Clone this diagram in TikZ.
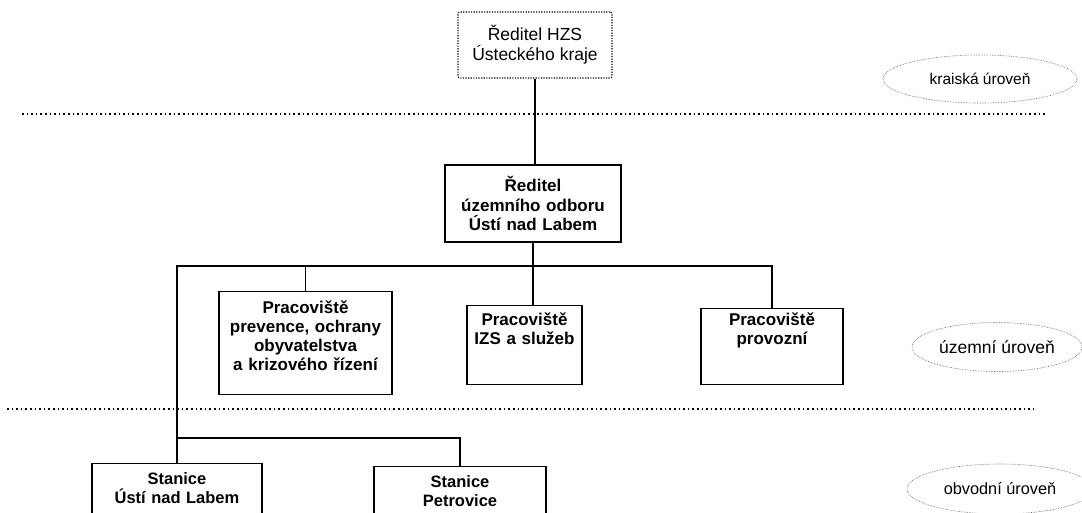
\documentclass[tikz,border=0pt]{standalone}
\usepackage{fontspec}
\setmainfont{Liberation Sans}
\usetikzlibrary{positioning, shapes.geometric}

\begin{document}
\begin{tikzpicture}[x=1pt, y=-1pt,
    unit/.style={draw, line width=1.1pt, align=center, inner xsep=0pt, inner ysep=7pt,
      font=\bfseries\fontsize{17}{19}\selectfont},
    level/.style={draw=black!65, densely dotted, line width=0.6pt, ellipse, inner sep=0pt,
      font=\fontsize{15.5}{18}\selectfont},
    border/.style={line width=1.5pt, dash pattern=on 1.5pt off 3.1pt},
    link/.style={line width=1.1pt}]
    \useasboundingbox (0,0) rectangle (1082,512);

    % krajska uroven
    \node[draw, line width=1.2pt, dash pattern=on 1.2pt off 1.4pt, rounded corners=2pt,
      minimum width=154pt, minimum height=66pt, align=center,
      font=\fontsize{17.5}{20}\selectfont] (hzs) at (535,45) {Ředitel HZS\\Ústeckého kraje};
    \node[level, minimum width=194pt, minimum height=48pt] (kraj) at (980,79) {kraiská úroveň};
    \draw[border] (22,114) -- (1045,114);

    % uzemni uroven
    \node[unit, line width=2pt, text width=176pt, minimum height=77pt,
      font=\bfseries\fontsize{17}{19.5}\selectfont] (odbor) at (533,203.5)
      {Ředitel\\územního odboru\\Ústí nad Labem};
    \node[unit, anchor=north, text width=173pt, text height=15pt, text depth=74pt] (prevence) at (305.5,291)
      {Pracoviště\\prevence, ochrany\\obyvatelstva\\a krizového řízení};
    \node[unit, anchor=north, text width=115pt, text height=13pt, text depth=52pt] (izs) at (524.5,305)
      {Pracoviště\\IZS a služeb};
    \node[unit, anchor=north, text width=142pt, text height=10pt, text depth=52pt] (provoz) at (772,308)
      {Pracoviště\\provozní};
    \node[level, minimum width=170pt, minimum height=49pt,
      font=\fontsize{17.5}{20}\selectfont] (uzemi) at (997,347) {územní úroveň};
    \draw[border] (7,409) -- (1035,409);

    % obvodni uroven
    \node[unit, anchor=north, text width=170pt, text height=14pt, text depth=50pt,
      font=\bfseries\fontsize{16.5}{19}\selectfont] (stanUL) at (177,463) {Stanice\\Ústí nad Labem};
    \node[unit, anchor=north, text width=172pt, text height=14pt, text depth=50pt,
      font=\bfseries\fontsize{16.5}{19}\selectfont] (stanPe) at (460,466) {Stanice\\Petrovice};
    \node[level, minimum width=186pt, minimum height=50pt,
      font=\fontsize{16.3}{19}\selectfont] (obvod) at (1000,489) {obvodní úroveň};

    % spoje
    \coordinate (bus) at (0,266);
    \coordinate (bus2) at (0,438);
    \draw[link] (hzs.south) -- (hzs.south |- odbor.north);
    \draw[link] (odbor.south) -- (odbor.south |- izs.north);
    \draw[link] (stanUL.north) -- (stanUL.north |- bus) -- (provoz.north |- bus) -- (provoz.north);
    \draw[link] (prevence.north |- bus) -- (prevence.north);
    \draw[link] (stanUL.north |- bus2) -- (stanPe.north |- bus2) -- (stanPe.north);

\end{tikzpicture}
\end{document}
